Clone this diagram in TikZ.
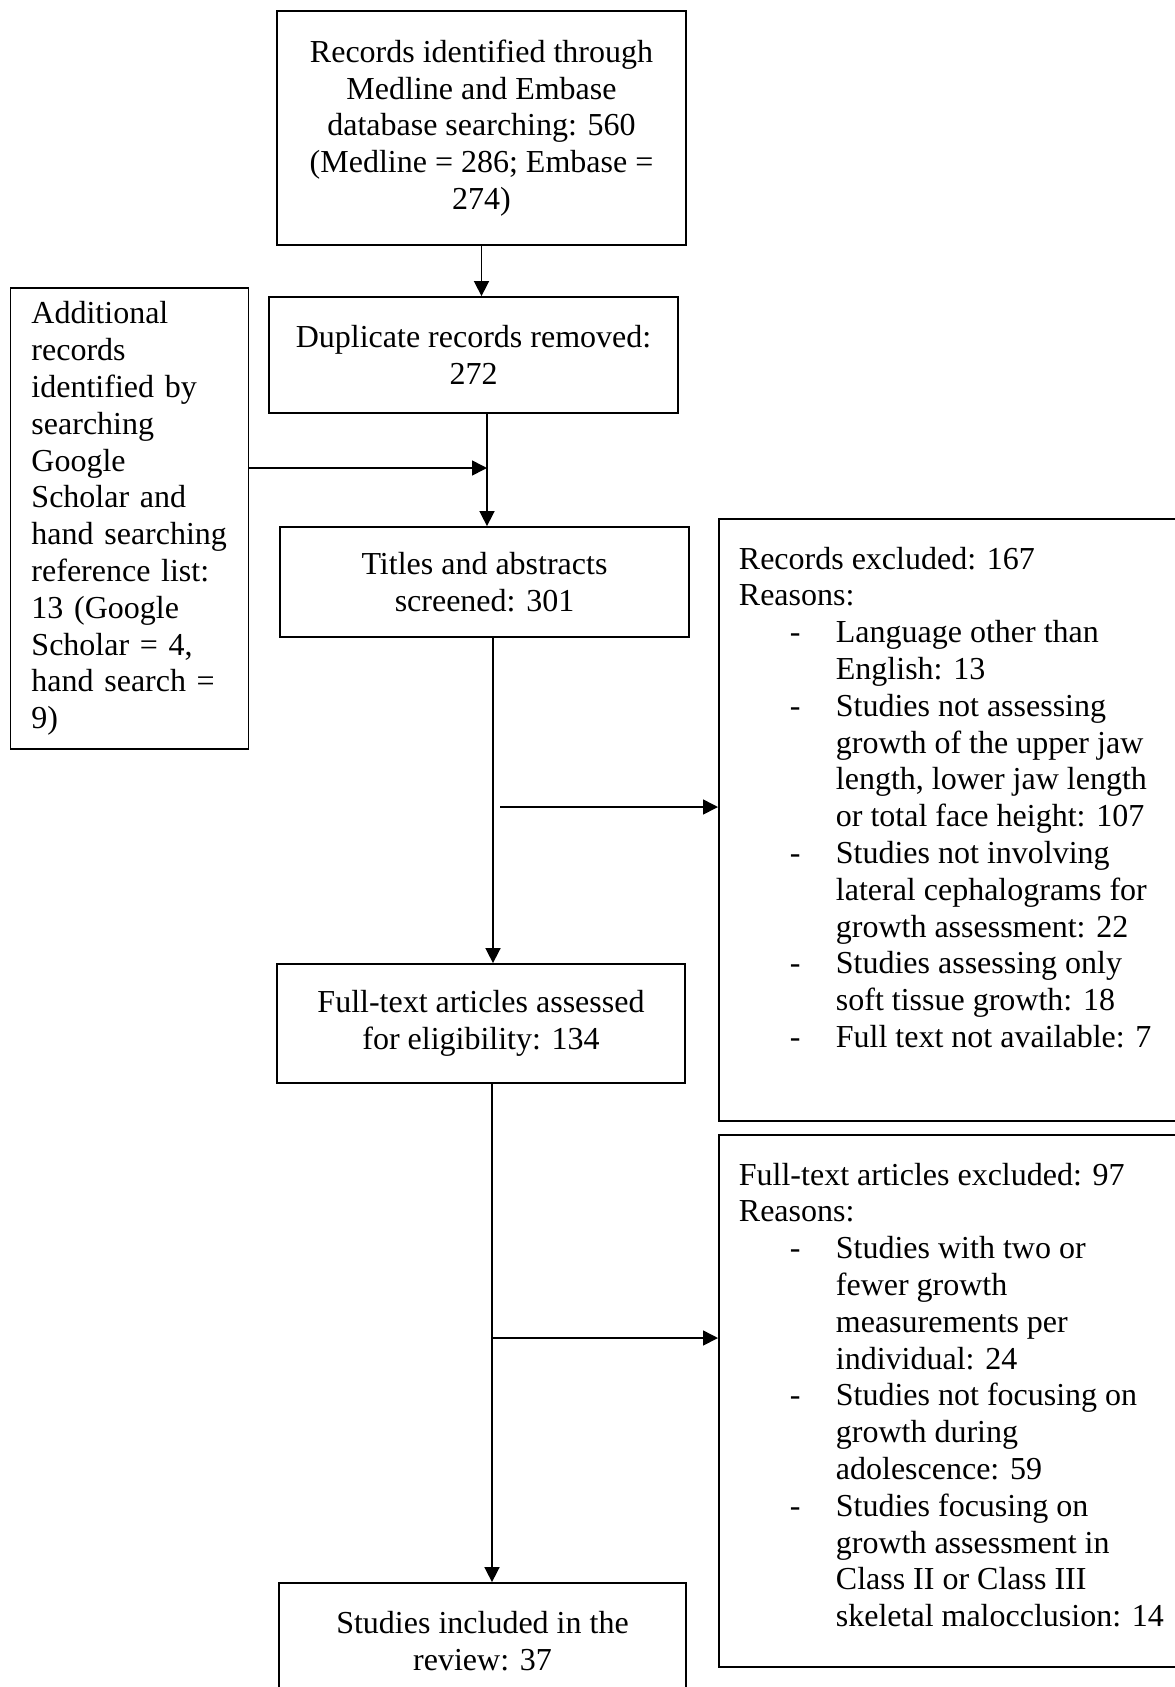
\documentclass[tikz,border=0pt]{standalone}
\usepackage{fontspec}
\setmainfont{Liberation Serif}
\usetikzlibrary{arrows.meta}

\newcommand{\reason}[1]{\par\hangindent=48.5pt\hangafter=1\noindent\hspace*{25.5pt}\makebox[23pt][l]{-}#1\par}

\begin{document}
\begin{tikzpicture}[x=0.5pt,y=-0.5pt,
  every node/.style={font=\fontsize{16pt}{18.4pt}\selectfont},
  box/.style={draw, line width=0.9pt, align=center, inner sep=0pt},
  listbox/.style={draw, line width=0.9pt, inner xsep=10pt, inner ysep=14pt, anchor=north west},
  link/.style={line width=0.8pt, -{Triangle[length=7.5pt,width=7.5pt]}}
]
\useasboundingbox (0,0) rectangle (1174,1687);

\node[box, minimum width=204.5pt, minimum height=117pt] (ident) at (481.5,128)
  {Records identified through\\Medline and Embase\\database searching: 560\\(Medline = 286; Embase =\\274)};
\node[box, minimum width=204.5pt, minimum height=58pt] (dup) at (473.5,355)
  {Duplicate records removed:\\272};
\node[box, align=left, text width=98pt, inner xsep=10.5pt, minimum height=230.5pt] (extra) at (129.5,518.5)
  {Additional\\records\\identified by\\searching\\Google\\Scholar and\\hand searching\\reference list:\\13 (Google\\Scholar = 4,\\hand search =\\9)};
\node[box, minimum width=204.5pt, minimum height=55pt] (screen) at (484.5,582)
  {Titles and abstracts\\screened: 301};
\node[listbox] (excl1) at (718,518) {\begin{minipage}[t][273pt][t]{225pt}
Records excluded: 167\par
Reasons:\par
\reason{Language other than\newline English: 13}
\reason{Studies not assessing\newline growth of the upper jaw\newline length, lower jaw length\newline or total face height: 107}
\reason{Studies not involving\newline lateral cephalograms for\newline growth assessment: 22}
\reason{Studies assessing only\newline soft tissue growth: 18}
\reason{Full text not available: 7}
\end{minipage}};
\node[box, minimum width=204pt, minimum height=59.5pt] (full) at (481,1023.5)
  {Full-text articles assessed\\for eligibility: 134};
\node[listbox] (excl2) at (718,1134) {\begin{minipage}[t][238pt][t]{225pt}
Full-text articles excluded: 97\par
Reasons:\par
\reason{Studies with two or\newline fewer growth\newline measurements per\newline individual: 24}
\reason{Studies not focusing on\newline growth during\newline adolescence: 59}
\reason{Studies focusing on\newline growth assessment in\newline Class II or Class III\newline skeletal malocclusion: 14}
\end{minipage}};
\node[box, minimum width=203.5pt, minimum height=58.5pt] (incl) at (482.5,1641.5)
  {Studies included in the\\review: 37};

\coordinate (join) at (487,468);
\coordinate (split1) at (493,807);
\coordinate (split2) at (492,1338);

\draw[link] (ident.south) -- (ident.south |- dup.north);
\draw[link] (join |- dup.south) -- (join |- screen.north);
\draw[link] (extra.east |- join) -- (join);
\draw[link] (split1 |- screen.south) -- (split1 |- full.north);
\draw[link] ([xshift=3.5pt]split1) -- (split1 -| excl1.west);
\draw[link] (split2 |- full.south) -- (split2 |- incl.north);
\draw[link] (split2) -- (split2 -| excl2.west);
\end{tikzpicture}
\end{document}
